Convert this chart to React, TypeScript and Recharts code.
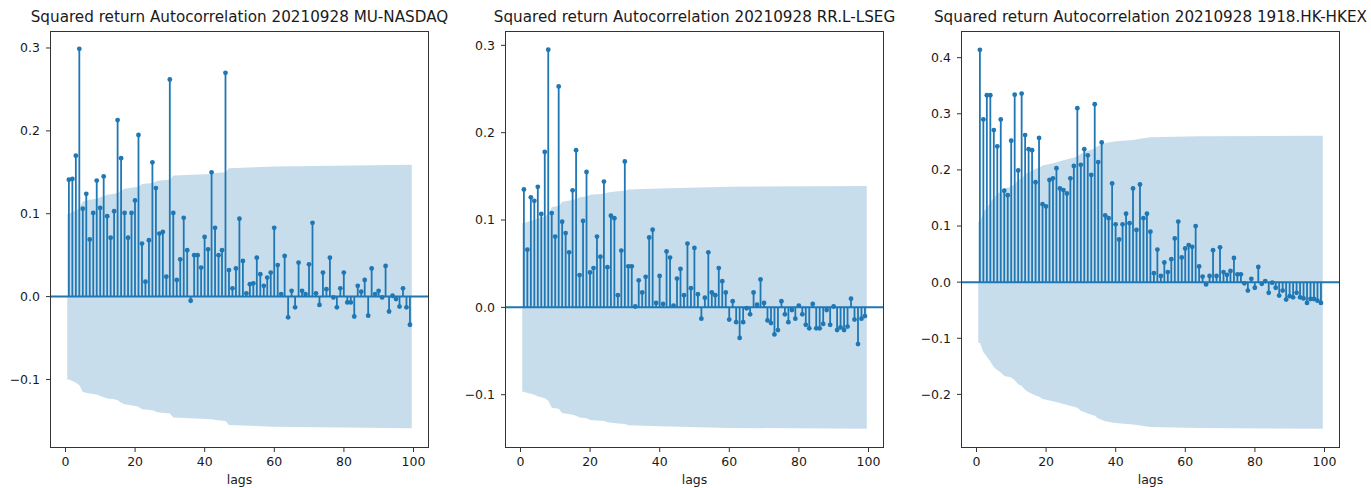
import { Area, Bar, ComposedChart, ReferenceLine, XAxis, YAxis } from "recharts";

const lags = Array.from({ length: 99 }, (_, i) => i + 1);
const xTicks = [0, 20, 40, 60, 80, 100];

const muAcf = [
  0.141, 0.142, 0.170, 0.299, 0.106, 0.124, 0.069, 0.101, 0.140, 0.107,
  0.145, 0.097, 0.071, 0.103, 0.213, 0.167, 0.101, 0.071, 0.101, 0.116,
  0.195, 0.064, 0.018, 0.068, 0.162, 0.131, 0.076, 0.078, 0.024, 0.262,
  0.101, 0.020, 0.045, 0.095, 0.056, -0.005, 0.050, 0.050, 0.035, 0.072,
  0.057, 0.150, 0.083, 0.050, 0.056, 0.270, 0.032, 0.010, 0.034, 0.094,
  0.043, 0.004, 0.015, 0.016, 0.047, 0.027, 0.013, 0.023, 0.029, 0.083,
  0.038, 0.003, 0.049, -0.025, 0.007, -0.013, 0.041, 0.007, 0.003, 0.039,
  0.089, 0.004, -0.010, 0.029, 0.009, 0.047, -0.001, -0.013, 0.010, 0.029,
  -0.007, -0.007, -0.024, 0.013, 0.006, 0.020, -0.023, 0.034, 0.003, 0.007,
  -0.001, 0.037, -0.018, 0.001, -0.003, -0.012, 0.010, -0.013, -0.034,
];
const muBandLags = [0.5, 1, 2, 3, 4, 5, 6, 7, 9, 10, 12, 14, 15, 16, 17, 20, 21, 22, 25, 26, 27, 30, 31, 42, 43, 46, 47, 60, 99.5];
const muBandHalf = [
  0.100, 0.100, 0.102, 0.104, 0.107, 0.115, 0.116, 0.117, 0.118, 0.120, 0.123, 0.124, 0.125, 0.128, 0.130,
  0.132, 0.133, 0.136, 0.137, 0.139, 0.140, 0.141, 0.146, 0.148, 0.149, 0.150, 0.155, 0.157, 0.159,
];

const rrAcf = [
  0.135, 0.066, 0.126, 0.122, 0.138, 0.107, 0.178, 0.295, 0.108, 0.081,
  0.253, 0.098, 0.085, 0.063, 0.134, 0.180, 0.037, 0.099, 0.155, 0.040,
  0.045, 0.081, 0.058, 0.144, 0.046, 0.105, 0.102, 0.014, 0.065, 0.167,
  0.047, 0.047, 0.001, 0.031, 0.017, 0.035, 0.080, 0.089, 0.005, 0.036,
  0.004, 0.064, 0.057, 0.002, 0.033, 0.044, 0.014, 0.073, 0.022, 0.068,
  0.015, -0.013, 0.011, 0.063, 0.017, 0.014, 0.045, 0.030, 0.017, -0.014,
  0.007, -0.017, -0.035, -0.017, -0.001, -0.008, 0.017, 0.003, 0.032, 0.005,
  -0.015, -0.018, -0.031, -0.026, 0.007, -0.008, -0.017, -0.003, -0.013, 0.002,
  -0.008, -0.020, -0.024, 0.004, -0.024, -0.024, -0.019, -0.003, -0.020, 0.001,
  -0.026, -0.023, -0.026, -0.022, 0.010, -0.014, -0.042, -0.013, -0.010,
];
const rrBandLags = [0.5, 1, 2, 3, 4, 5, 6, 7, 8, 9, 11, 12, 15, 16, 17, 19, 20, 24, 25, 28, 30, 31, 40, 60, 99.5];
const rrBandHalf = [
  0.0965, 0.0965, 0.098, 0.099, 0.100, 0.102, 0.103, 0.104, 0.107, 0.115, 0.116, 0.121, 0.123,
  0.124, 0.126, 0.127, 0.129, 0.130, 0.1315, 0.133, 0.1335, 0.135, 0.136, 0.138, 0.139,
];

const hkAcf = [
  0.414, 0.290, 0.333, 0.333, 0.271, 0.242, 0.290, 0.163, 0.155, 0.252,
  0.334, 0.199, 0.336, 0.262, 0.237, 0.235, 0.178, 0.257, 0.139, 0.135,
  0.182, 0.185, 0.203, 0.167, 0.164, 0.158, 0.185, 0.207, 0.310, 0.209,
  0.237, 0.226, 0.191, 0.317, 0.214, 0.249, 0.119, 0.114, 0.176, 0.103,
  0.076, 0.103, 0.122, 0.105, 0.167, 0.093, 0.174, 0.114, 0.122, 0.090,
  0.016, 0.058, 0.011, 0.035, 0.018, 0.041, 0.078, 0.108, 0.044, 0.060,
  0.066, 0.063, 0.100, 0.028, 0.010, -0.004, 0.011, 0.057, 0.011, 0.062,
  0.018, 0.013, 0.020, 0.043, 0.014, 0.014, -0.002, -0.015, 0.006, -0.010,
  0.027, -0.003, 0.002, -0.019, -0.001, -0.010, -0.024, -0.015, -0.031, -0.025,
  -0.027, -0.019, -0.027, -0.029, -0.037, -0.030, -0.030, -0.033, -0.037,
];
const hkBandLags = [0.5, 1, 2, 3, 4, 5, 6, 7, 8, 10, 11, 12, 13, 14, 15, 17, 18, 19, 22, 25, 28, 29, 30, 32, 34, 35, 37, 40, 45, 48, 50, 64, 99.5];
const hkBandHalf = [
  0.108, 0.108, 0.125, 0.133, 0.142, 0.151, 0.157, 0.161, 0.167, 0.170, 0.175, 0.182, 0.185, 0.192, 0.196, 0.202, 0.204,
  0.208, 0.212, 0.217, 0.222, 0.224, 0.229, 0.234, 0.238, 0.243, 0.248, 0.251, 0.2535, 0.2565, 0.258, 0.260, 0.261,
];

type Row = { lag: number; acf?: number; band?: [number, number] };

function buildRows(acf: number[], bandLags: number[], bandHalf: number[]): Row[] {
  const byLag = new Map<number, Row>();
  lags.forEach((lag, i) => byLag.set(lag, { lag, acf: acf[i] }));
  bandLags.forEach((lag, i) => {
    const row = byLag.get(lag) ?? { lag };
    row.band = [-bandHalf[i], bandHalf[i]];
    byLag.set(lag, row);
  });
  return [...byLag.values()].sort((a, b) => a.lag - b.lag);
}

const C0 = "#1f77b4";
const TEXT = "#1a1a1a";

// stem + marker, drawn from the bar rectangle recharts computes
function Stem(props: any) {
  const { x, y, width, height, payload } = props;
  if (!payload || payload.acf == null || x == null || y == null) return <g />;
  const cx = x + width / 2;
  const top = Math.min(y, y + height);
  const bottom = Math.max(y, y + height);
  const end = payload.acf >= 0 ? top : bottom;
  const base = payload.acf >= 0 ? bottom : top;
  return (
    <g>
      <line x1={cx} x2={cx} y1={base} y2={end} stroke={C0} strokeWidth={1.8} />
      <circle cx={cx} cy={end} r={2.4} fill={C0} />
    </g>
  );
}

const fmtY = (v: number) => (Math.abs(v) < 1e-9 ? "0.0" : v.toFixed(1)).replace("-", "\u2212");

function AcfPanel({ title, rows, yDomain, yTicks, left }: any) {
  return (
    <div style={{ position: "absolute", left, top: 0, width: 455, height: 488 }}>
      <div
        style={{
          position: "absolute", left: -50, width: 579, top: 8, textAlign: "center",
          fontSize: 15.2, lineHeight: "18px", whiteSpace: "nowrap", color: TEXT,
        }}
      >
        {title}
      </div>
      <ComposedChart width={455} height={488} data={rows} margin={{ top: 31, right: 26, bottom: 0, left: 0 }}>
        <XAxis
          dataKey="lag" type="number" domain={[-4.45, 104.45]} ticks={xTicks} allowDataOverflow
          axisLine={false} tickLine={{ stroke: "#333" }} tickSize={4} tickMargin={5} height={40}
          tick={{ fill: TEXT, fontSize: 12.5 }}
          label={{ value: "lags", position: "insideBottom", offset: 4, fill: TEXT, fontSize: 12.5 }}
        />
        <YAxis
          type="number" domain={yDomain} ticks={yTicks} allowDataOverflow width={50}
          axisLine={false} tickLine={{ stroke: "#333" }} tickSize={4} tickMargin={6}
          tick={{ fill: TEXT, fontSize: 12.5 }} tickFormatter={fmtY}
        />
        <Area dataKey="band" type="linear" fill={C0} fillOpacity={0.25} stroke="none" connectNulls isAnimationActive={false} />
        <Bar dataKey="acf" barSize={2} shape={<Stem />} isAnimationActive={false} />
        <ReferenceLine y={0} stroke={C0} strokeWidth={2} />
      </ComposedChart>
      <div
        style={{
          position: "absolute", left: 50, top: 31, width: 379, height: 417,
          border: "1px solid #333", boxSizing: "border-box", pointerEvents: "none",
        }}
      />
    </div>
  );
}

export default function App() {
  return (
    <div
      style={{
        position: "absolute", left: 0, top: 0, width: 1371, height: 488, background: "#fff",
        fontFamily: '"DejaVu Sans", sans-serif',
      }}
    >
      <AcfPanel
        left={0}
        title="Squared return Autocorrelation 20210928 MU-NASDAQ"
        rows={buildRows(muAcf, muBandLags, muBandHalf)}
        yDomain={[-0.1827, 0.3205]}
        yTicks={[-0.1, 0, 0.1, 0.2, 0.3]}
      />
      <AcfPanel
        left={455}
        title="Squared return Autocorrelation 20210928 RR.L-LSEG"
        rows={buildRows(rrAcf, rrBandLags, rrBandHalf)}
        yDomain={[-0.161, 0.3164]}
        yTicks={[-0.1, 0, 0.1, 0.2, 0.3]}
      />
      <AcfPanel
        left={911}
        title="Squared return Autocorrelation 20210928 1918.HK-HKEX"
        rows={buildRows(hkAcf, hkBandLags, hkBandHalf)}
        yDomain={[-0.2955, 0.4475]}
        yTicks={[-0.2, -0.1, 0, 0.1, 0.2, 0.3, 0.4]}
      />
    </div>
  );
}
